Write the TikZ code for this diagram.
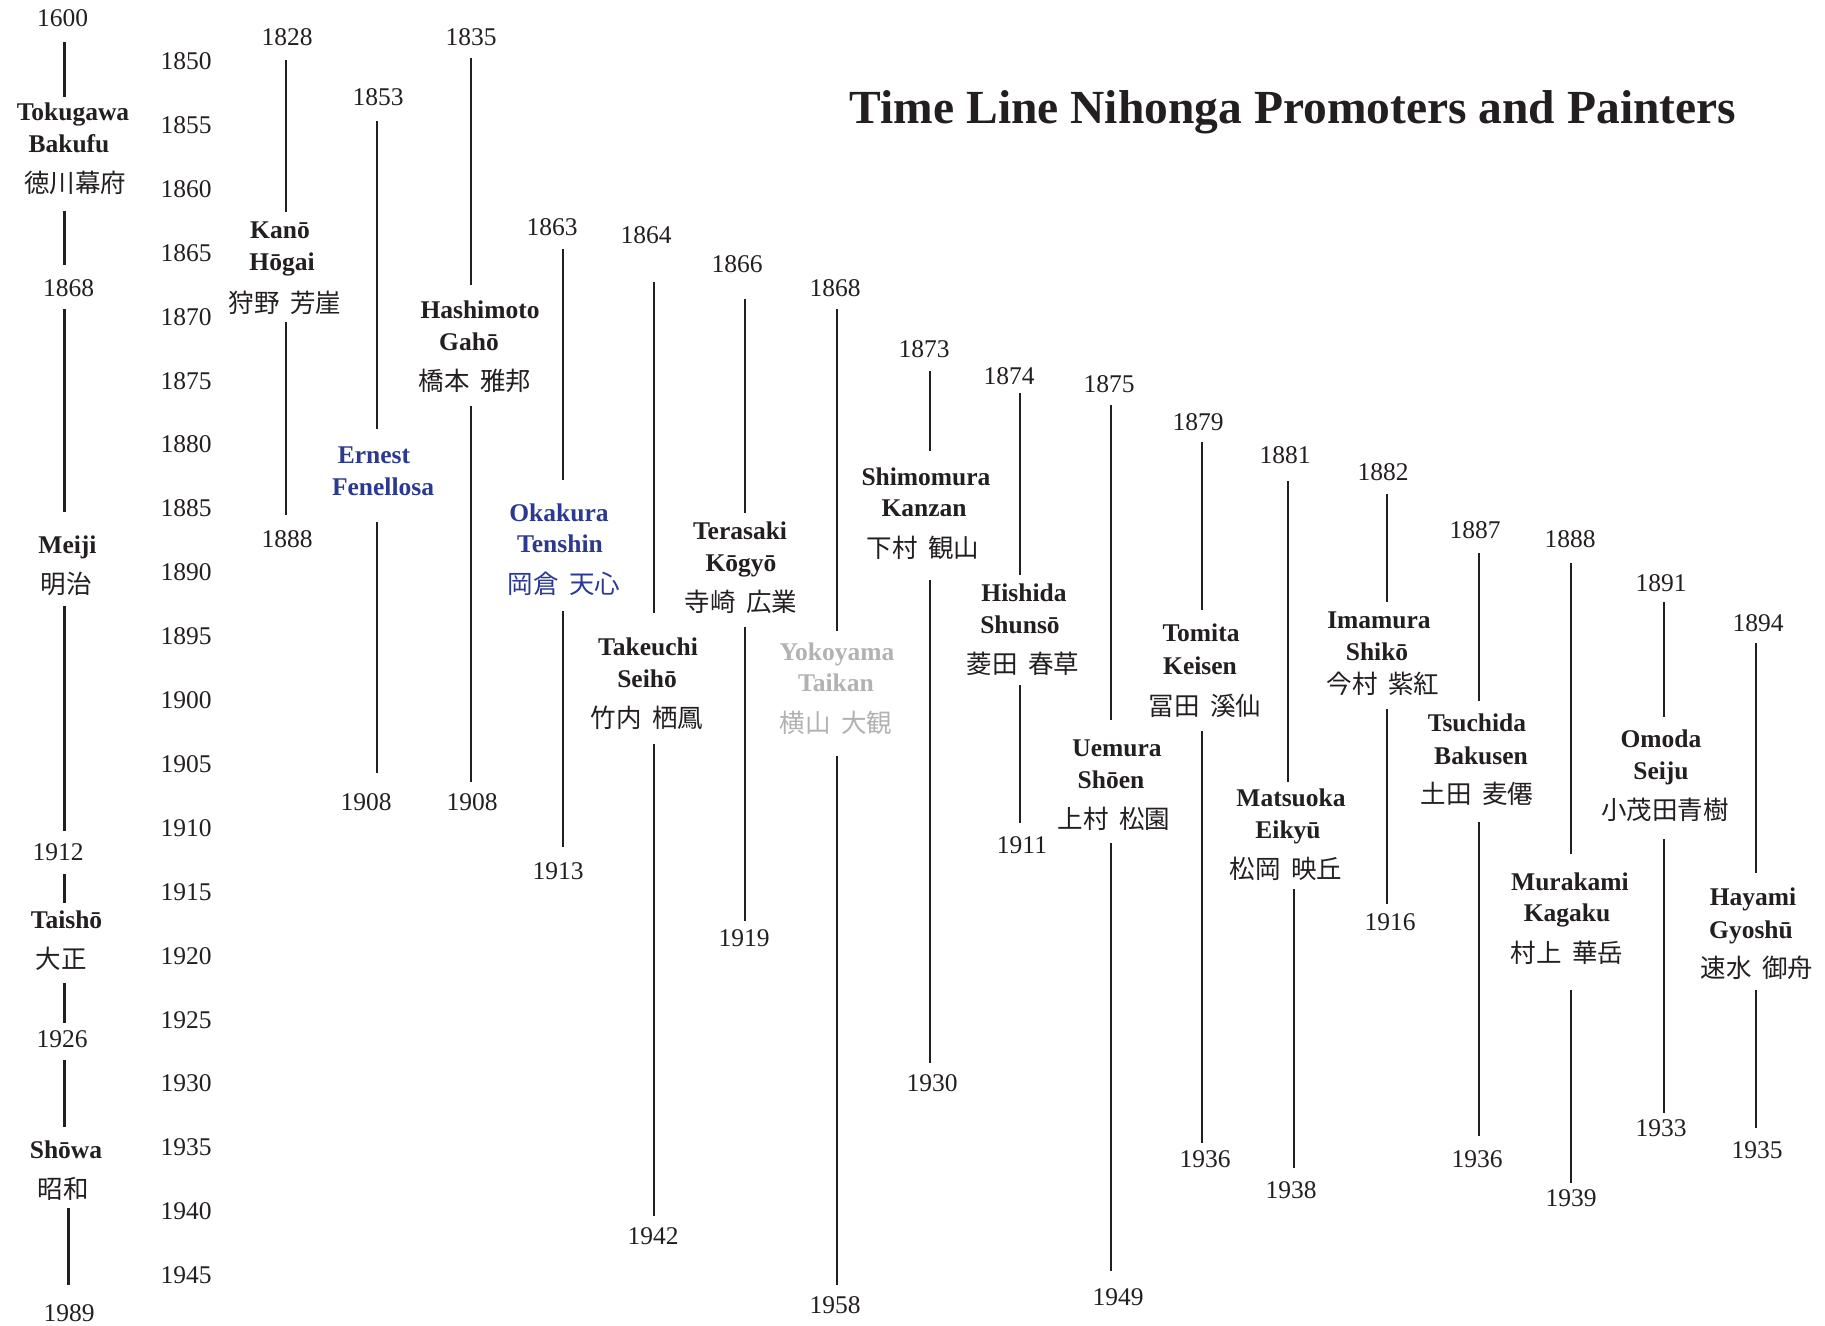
\documentclass[tikz,border=0pt]{standalone}
\usepackage{fontspec}
\setmainfont{Liberation Serif}
\newfontfamily\jpfont[WordSpace=1.9]{Noto Sans CJK JP}
\usepackage{tikz}

\definecolor{ink}{RGB}{35,31,32}
\definecolor{jblue}{RGB}{43,57,144}
\definecolor{jgray}{RGB}{178,178,178}

\begin{document}
\begin{tikzpicture}[x=1pt, y=-1pt,
	yr/.style={font=\fontsize{25.5}{30}\selectfont, text=ink, inner sep=0pt, text height=17pt, text depth=0pt},
	nm/.style={yr, font=\fontsize{25.5}{30}\selectfont\bfseries},
	jp/.style={yr, font=\fontsize{25.5}{30}\selectfont\jpfont, text height=21pt},
	promoter/.style={text=jblue},
	faded/.style={text=jgray},
	ln/.style={draw=ink, line width=2.4pt},
	gp/.style 2 args={shorten <=#1pt, shorten >=#2pt}]
	\useasboundingbox[fill=white] (0,0) rectangle (1825,1325);

	\node[nm, font=\fontsize{47.5}{56}\selectfont\bfseries, text height=31.5pt] (title) at (1293,107.5)
	{Time Line Nihonga Promoters and Painters};

	% year scale
	\foreach \yy [count=\i from 0] in {1850,1855,...,1945}
		\node[yr] (ax\i) at (186,61+63.9*\i) {\yy};

	% eras
	\coordinate (era) at (64.6,0);
	\coordinate (era2) at (68.5,0);
	\node[yr] (e1600) at (62.5,18) {1600};
	\node[nm] (toku-1) at (73,112) {Tokugawa};
	\node[nm] (toku-2) at (69,144) {Bakufu};
	\node[jp] (toku-j) at (75,182) {徳川幕府};
	\node[yr] (e1868) at (68.5,288) {1868};
	\node[nm] (meiji) at (67.5,545) {Meiji};
	\node[jp] (meiji-j) at (66,583) {明治};
	\node[yr] (e1912) at (58,852) {1912};
	\node[nm] (taisho) at (66.5,920) {Taishō};
	\node[jp] (taisho-j) at (61,958) {大正};
	\node[yr] (e1926) at (62,1039) {1926};
	\node[nm] (showa) at (66,1150) {Shōwa};
	\node[jp] (showa-j) at (63,1188) {昭和};
	\node[yr] (e1989) at (69,1313) {1989};
	\draw[ln, gp={15.5}{6.5}] (e1600.south -| era) -- (toku-1.north -| era);
	\draw[ln, gp={18.5}{14.5}] (toku-j.south -| era) -- (e1868.north -| era);
	\draw[ln, gp={12.5}{24.5}] (e1868.south -| era) -- (meiji.north -| era);
	\draw[ln, gp={12.5}{12.5}] (meiji-j.south -| era) -- (e1912.north -| era);
	\draw[ln, gp={13.5}{8.5}] (e1912.south -| era) -- (taisho.north -| era);
	\draw[ln, gp={14.5}{7.5}] (taisho-j.south -| era) -- (e1926.north -| era);
	\draw[ln, gp={12.5}{14.5}] (e1926.south -| era) -- (showa.north -| era);
	\draw[ln, gp={9.5}{19.5}] (showa-j.south -| era2) -- (e1989.north -| era2);

	% Kano Hogai
	\coordinate (kano) at (286,0);
	\node[yr] (kano-s) at (287,37) {1828};
	\node[nm] (kano-1) at (280,230) {Kanō};
	\node[nm] (kano-2) at (282,262) {Hōgai};
	\node[jp] (kano-j) at (285,302) {狩野 芳崖};
	\node[yr] (kano-e) at (287,539) {1888};
	\draw[ln, gp={14.5}{9.5}] (kano-s.south -| kano) -- (kano-1.north -| kano);
	\draw[ln, gp={9.5}{15.5}] (kano-j.south -| kano) -- (kano-e.north -| kano);

	% Ernest Fenellosa
	\coordinate (fen) at (377,0);
	\node[yr] (fen-s) at (378,97) {1853};
	\node[nm, promoter] (fen-1) at (374,455) {Ernest};
	\node[nm, promoter] (fen-2) at (383,487) {Fenellosa};
	\node[yr] (fen-e) at (366,802) {1908};
	\draw[ln, gp={15.5}{17.5}] (fen-s.south -| fen) -- (fen-1.north -| fen);
	\draw[ln, gp={26.5}{20.5}] (fen-2.south -| fen) -- (fen-e.north -| fen);

	% Hashimoto Gaho
	\coordinate (hash) at (471,0);
	\node[yr] (hash-s) at (471,37) {1835};
	\node[nm] (hash-1) at (480,310) {Hashimoto};
	\node[nm] (hash-2) at (469,342) {Gahō};
	\node[jp] (hash-j) at (475,380) {橋本 雅邦};
	\node[yr] (hash-e) at (472,802) {1908};
	\draw[ln, gp={12.5}{16.5}] (hash-s.south -| hash) -- (hash-1.north -| hash);
	\draw[ln, gp={15.5}{11.5}] (hash-j.south -| hash) -- (hash-e.north -| hash);

	% Okakura Tenshin
	\coordinate (oka) at (563,0);
	\node[yr] (oka-s) at (552,227) {1863};
	\node[nm, promoter] (oka-1) at (559,513) {Okakura};
	\node[nm, promoter] (oka-2) at (560,544) {Tenshin};
	\node[jp, promoter] (oka-j) at (564,583) {岡倉 天心};
	\node[yr] (oka-e) at (558,871) {1913};
	\draw[ln, gp={13.5}{24.5}] (oka-s.south -| oka) -- (oka-1.north -| oka);
	\draw[ln, gp={17.5}{15.5}] (oka-j.south -| oka) -- (oka-e.north -| oka);

	% Takeuchi Seiho
	\coordinate (take) at (654,0);
	\node[yr] (take-s) at (646,235) {1864};
	\node[nm] (take-1) at (648,647) {Takeuchi};
	\node[nm] (take-2) at (647,679) {Seihō};
	\node[jp] (take-j) at (647,717) {竹内 栖鳳};
	\node[yr] (take-e) at (653,1236) {1942};
	\draw[ln, gp={38.5}{25.5}] (take-s.south -| take) -- (take-1.north -| take);
	\draw[ln, gp={16.5}{11.5}] (take-j.south -| take) -- (take-e.north -| take);

	% Terasaki Kogyo
	\coordinate (tera) at (745,0);
	\node[yr] (tera-s) at (737,264) {1866};
	\node[nm] (tera-1) at (740,531) {Terasaki};
	\node[nm] (tera-2) at (741,563) {Kōgyō};
	\node[jp] (tera-j) at (741,601) {寺崎 広業};
	\node[yr] (tera-e) at (744,938) {1919};
	\draw[ln, gp={26.5}{9.5}] (tera-s.south -| tera) -- (tera-1.north -| tera);
	\draw[ln, gp={15.5}{8.5}] (tera-j.south -| tera) -- (tera-e.north -| tera);

	% Yokoyama Taikan
	\coordinate (yoko) at (837,0);
	\node[yr] (yoko-s) at (835,288) {1868};
	\node[nm, faded] (yoko-1) at (837,652) {Yokoyama};
	\node[nm, faded] (yoko-2) at (836,683) {Taikan};
	\node[jp, faded] (yoko-j) at (836,722) {横山 大観};
	\node[yr] (yoko-e) at (835,1305) {1958};
	\draw[ln, gp={12.5}{12.5}] (yoko-s.south -| yoko) -- (yoko-1.north -| yoko);
	\draw[ln, gp={23.5}{11.5}] (yoko-j.south -| yoko) -- (yoko-e.north -| yoko);

	% Shimomura Kanzan
	\coordinate (shim) at (930,0);
	\node[yr] (shim-s) at (924,349) {1873};
	\node[nm] (shim-1) at (926,477) {Shimomura};
	\node[nm] (shim-2) at (924,508) {Kanzan};
	\node[jp] (shim-j) at (923,547) {下村 観山};
	\node[yr] (shim-e) at (932,1083) {1930};
	\draw[ln, gp={13.5}{17.5}] (shim-s.south -| shim) -- (shim-1.north -| shim);
	\draw[ln, gp={22.5}{11.5}] (shim-j.south -| shim) -- (shim-e.north -| shim);

	% Hishida Shunso
	\coordinate (hish) at (1020,0);
	\node[yr] (hish-s) at (1009,376) {1874};
	\node[nm] (hish-1) at (1024,593) {Hishida};
	\node[nm] (hish-2) at (1020,625) {Shunsō};
	\node[jp] (hish-j) at (1023,663) {菱田 春草};
	\node[yr] (hish-e) at (1022,845) {1911};
	\draw[ln, gp={8.5}{9.5}] (hish-s.south -| hish) -- (hish-1.north -| hish);
	\draw[ln, gp={11.5}{13.5}] (hish-j.south -| hish) -- (hish-e.north -| hish);

	% Uemura Shoen
	\coordinate (uem) at (1111,0);
	\node[yr] (uem-s) at (1109,384) {1875};
	\node[nm] (uem-1) at (1117,748) {Uemura};
	\node[nm] (uem-2) at (1111,780) {Shōen};
	\node[jp] (uem-j) at (1114,818) {上村 松園};
	\node[yr] (uem-e) at (1118,1297) {1949};
	\draw[ln, gp={12.5}{19.5}] (uem-s.south -| uem) -- (uem-1.north -| uem);
	\draw[ln, gp={14.5}{17.5}] (uem-j.south -| uem) -- (uem-e.north -| uem);

	% Tomita Keisen
	\coordinate (tom) at (1202,0);
	\node[yr] (tom-s) at (1198,422) {1879};
	\node[nm] (tom-1) at (1201,633) {Tomita};
	\node[nm] (tom-2) at (1200,666) {Keisen};
	\node[jp] (tom-j) at (1205,705) {冨田 溪仙};
	\node[yr] (tom-e) at (1205,1159) {1936};
	\draw[ln, gp={11.5}{14.5}] (tom-s.south -| tom) -- (tom-1.north -| tom);
	\draw[ln, gp={15.5}{7.5}] (tom-j.south -| tom) -- (tom-e.north -| tom);

	% Matsuoka Eikyu
	\coordinate (mats) at (1288,0);
	\coordinate (mats2) at (1294,0);
	\node[yr] (mats-s) at (1285,455) {1881};
	\node[nm] (mats-1) at (1291,798) {Matsuoka};
	\node[nm] (mats-2) at (1288,830) {Eikyū};
	\node[jp] (mats-j) at (1286,868) {松岡 映丘};
	\node[yr] (mats-e) at (1291,1190) {1938};
	\draw[ln, gp={17.5}{7.5}] (mats-s.south -| mats) -- (mats-1.north -| mats);
	\draw[ln, gp={10.5}{13.5}] (mats-j.south -| mats2) -- (mats-e.north -| mats2);

	% Imamura Shiko
	\coordinate (ima) at (1387,0);
	\node[yr] (ima-s) at (1383,472) {1882};
	\node[nm] (ima-1) at (1379,620) {Imamura};
	\node[nm] (ima-2) at (1377,652) {Shikō};
	\node[jp] (ima-j) at (1383,683) {今村 紫紅};
	\node[yr] (ima-e) at (1390,922) {1916};
	\draw[ln, gp={13.5}{9.5}] (ima-s.south -| ima) -- (ima-1.north -| ima);
	\draw[ln, gp={15.5}{9.5}] (ima-j.south -| ima) -- (ima-e.north -| ima);

	% Tsuchida Bakusen
	\coordinate (tsu) at (1479,0);
	\node[yr] (tsu-s) at (1475,530) {1887};
	\node[nm] (tsu-1) at (1477,723) {Tsuchida};
	\node[nm] (tsu-2) at (1481,756) {Bakusen};
	\node[jp] (tsu-j) at (1477,793) {土田 麦僊};
	\node[yr] (tsu-e) at (1477,1159) {1936};
	\draw[ln, gp={14.5}{13.5}] (tsu-s.south -| tsu) -- (tsu-1.north -| tsu);
	\draw[ln, gp={18.5}{14.5}] (tsu-j.south -| tsu) -- (tsu-e.north -| tsu);

	% Murakami Kagaku
	\coordinate (mura) at (1571,0);
	\node[yr] (mura-s) at (1570,539) {1888};
	\node[nm] (mura-1) at (1570,882) {Murakami};
	\node[nm] (mura-2) at (1567,913) {Kagaku};
	\node[jp] (mura-j) at (1567,952) {村上 華岳};
	\node[yr] (mura-e) at (1571,1198) {1939};
	\draw[ln, gp={15.5}{19.5}] (mura-s.south -| mura) -- (mura-1.north -| mura);
	\draw[ln, gp={27.5}{6.5}] (mura-j.south -| mura) -- (mura-e.north -| mura);

	% Omoda Seiju
	\coordinate (omo) at (1664,0);
	\node[yr] (omo-s) at (1661,583) {1891};
	\node[nm] (omo-1) at (1661,739) {Omoda};
	\node[nm] (omo-2) at (1661,771) {Seiju};
	\node[jp] (omo-j) at (1665,809) {小茂田青樹};
	\node[yr] (omo-e) at (1661,1128) {1933};
	\draw[ln, gp={10.5}{13.5}] (omo-s.south -| omo) -- (omo-1.north -| omo);
	\draw[ln, gp={19.5}{6.5}] (omo-j.south -| omo) -- (omo-e.north -| omo);

	% Hayami Gyoshu
	\coordinate (hay) at (1756,0);
	\node[yr] (hay-s) at (1758,623) {1894};
	\node[nm] (hay-1) at (1753,897) {Hayami};
	\node[nm] (hay-2) at (1751,930) {Gyoshū};
	\node[jp] (hay-j) at (1757,967) {速水 御舟};
	\node[yr] (hay-e) at (1757,1150) {1935};
	\draw[ln, gp={11.5}{15.5}] (hay-s.south -| hay) -- (hay-1.north -| hay);
	\draw[ln, gp={12.5}{13.5}] (hay-j.south -| hay) -- (hay-e.north -| hay);
\end{tikzpicture}
\end{document}
